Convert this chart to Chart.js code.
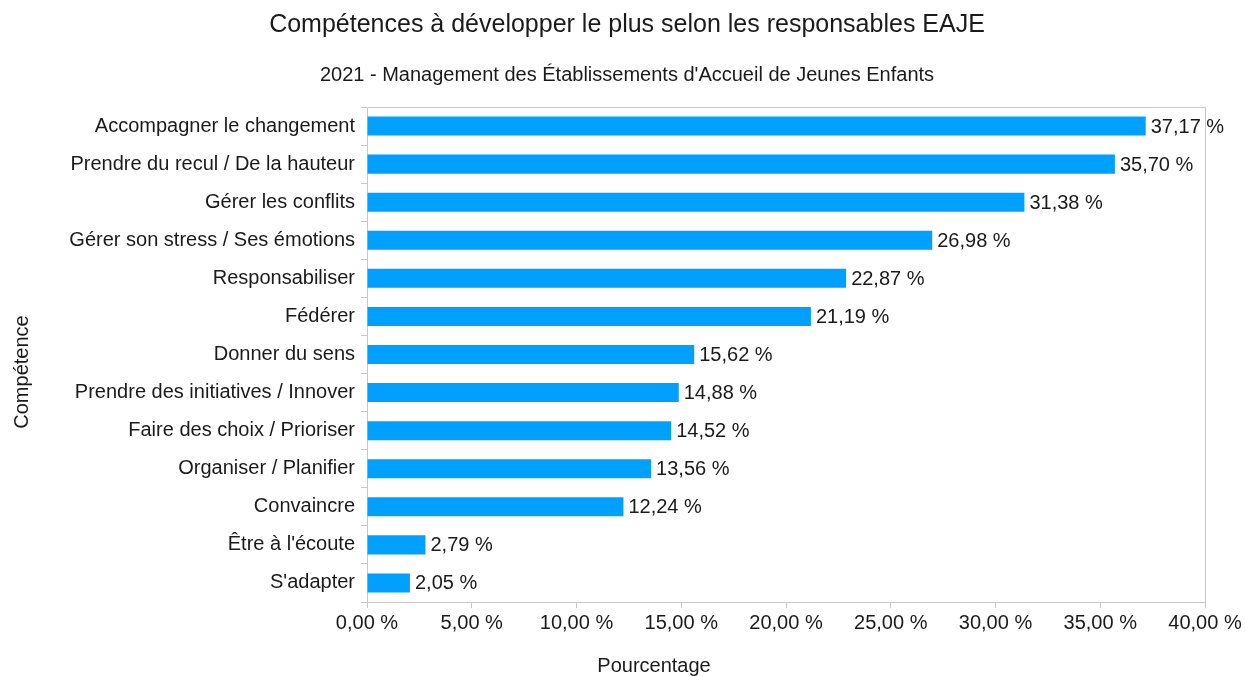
<!DOCTYPE html>
<html lang="fr">
<head>
<meta charset="utf-8">
<title>Compétences à développer</title>
<script src="https://cdn.jsdelivr.net/npm/chart.js@4.4.0/dist/chart.umd.min.js"></script>
<style>
  html, body { margin: 0; padding: 0; background: #ffffff; }
  #wrap { position: relative; width: 1245px; height: 677px; }
</style>
</head>
<body>
<div id="wrap"><canvas id="chart"></canvas></div>
<script>
const categories = [
  'Accompagner le changement',
  'Prendre du recul / De la hauteur',
  'Gérer les conflits',
  'Gérer son stress / Ses émotions',
  'Responsabiliser',
  'Fédérer',
  'Donner du sens',
  'Prendre des initiatives / Innover',
  'Faire des choix / Prioriser',
  'Organiser / Planifier',
  'Convaincre',
  "Être à l'écoute",
  "S'adapter"
];
const percentages = [37.17, 35.70, 31.38, 26.98, 22.87, 21.19, 15.62, 14.88, 14.52, 13.56, 12.24, 2.79, 2.05];
const xTicks = [0, 5, 10, 15, 20, 25, 30, 35, 40];

const mainTitle = 'Compétences à développer le plus selon les responsables EAJE';
const subTitle = "2021 - Management des Établissements d'Accueil de Jeunes Enfants";
const xTitle = 'Pourcentage';
const yTitle = 'Compétence';

const textColor = '#1a1a1a';
const lineColor = '#c8c8c8';
const fontFamily = '"Liberation Sans", Arial, sans-serif';

const fmt = v => v.toFixed(2).replace('.', ',') + ' %';

// titles are placed like the office export does, not centred on the plot
const titles = {
  id: 'titles',
  afterDraw(chart) {
    const ctx = chart.ctx;
    ctx.save();
    ctx.fillStyle = textColor;
    ctx.textAlign = 'center';
    ctx.textBaseline = 'middle';
    ctx.font = '25px ' + fontFamily;
    ctx.fillText(mainTitle, 627, 25);
    ctx.font = '20px ' + fontFamily;
    ctx.fillText(subTitle, 627, 75);
    ctx.fillText(xTitle, 654, 666);
    ctx.translate(22, 372);
    ctx.rotate(-Math.PI / 2);
    ctx.fillText(yTitle, 0, 0);
    ctx.restore();
  }
};

// draws the value after each bar and the box round the plot
const barLabels = {
  id: 'barLabels',
  afterDatasetsDraw(chart) {
    const ctx = chart.ctx;
    const area = chart.chartArea;
    ctx.save();
    ctx.strokeStyle = lineColor;
    ctx.lineWidth = 1;
    ctx.beginPath();
    ctx.moveTo(area.left, area.top + 0.5);
    ctx.lineTo(area.right + 0.5, area.top + 0.5);
    ctx.lineTo(area.right + 0.5, area.bottom);
    ctx.stroke();

    const meta = chart.getDatasetMeta(0);
    ctx.font = '20px ' + fontFamily;
    ctx.fillStyle = textColor;
    ctx.textAlign = 'left';
    ctx.textBaseline = 'middle';
    meta.data.forEach((bar, i) => {
      ctx.fillText(fmt(percentages[i]), bar.x + 5, bar.y + 1);
    });
    ctx.restore();
  }
};

new Chart(document.getElementById('chart'), {
  type: 'bar',
  data: {
    labels: categories,
    datasets: [{
      data: percentages,
      backgroundColor: '#00a0ff',
      borderWidth: 0,
      barPercentage: 0.5,
      categoryPercentage: 1.0
    }]
  },
  options: {
    indexAxis: 'y',
    responsive: true,
    maintainAspectRatio: false,
    animation: false,
    layout: { padding: { top: 107, right: 40, bottom: 0, left: 0 } },
    scales: {
      x: {
        min: 0,
        max: 40,
        afterBuildTicks: axis => { axis.ticks = xTicks.map(v => ({ value: v })); },
        afterFit: axis => { axis.height = 75; },
        ticks: {
          color: textColor,
          font: { family: fontFamily, size: 20 },
          padding: 3,
          maxRotation: 0,
          callback: v => fmt(v)
        },
        grid: { drawOnChartArea: false, drawTicks: true, tickLength: 6, color: lineColor },
        border: { color: lineColor, width: 1 }
      },
      y: {
        afterFit: axis => { axis.width = 367; },
        ticks: {
          color: textColor,
          font: { family: fontFamily, size: 20 },
          padding: 6
        },
        grid: { drawOnChartArea: false, drawTicks: true, tickLength: 6, color: lineColor, offset: true },
        border: { color: lineColor, width: 1 }
      }
    },
    plugins: {
      legend: { display: false },
      tooltip: { enabled: false }
    }
  },
  plugins: [barLabels, titles]
});
</script>
</body>
</html>
